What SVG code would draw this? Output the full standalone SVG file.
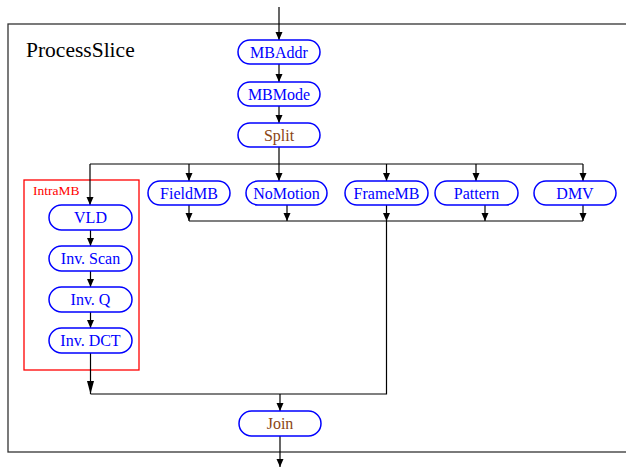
<svg xmlns="http://www.w3.org/2000/svg" width="626" height="468" viewBox="0 0 626 468">
<defs>
<style>
.node rect{fill:#fff;stroke:#0000ff;stroke-width:1.5}
.node text{font-family:"Liberation Serif","Times New Roman",serif;font-size:16px;fill:#0000ff;text-anchor:middle}
.node text.ctl{fill:#8b4513}
.edge{fill:none;stroke:#000;stroke-width:1.2}
</style>
<marker id="ah" markerUnits="userSpaceOnUse" markerWidth="8" markerHeight="10" refX="8" refY="3.5" orient="auto">
<path d="M0,0 L8,3.5 L0,7 Z" fill="#000"/>
</marker>
<marker id="ahl" markerUnits="userSpaceOnUse" markerWidth="13" markerHeight="10" refX="13" refY="3.5" orient="auto">
<path d="M0,0 L13,3.5 L0,7 Z" fill="#000"/>
</marker>
</defs>
<rect width="626" height="468" fill="#fff"/>
<g id="frame">
<rect x="8" y="24" width="630" height="428" fill="none" stroke="#333" stroke-width="1.3"/>
<text x="26" y="57" font-family="Liberation Serif,'Times New Roman',serif" font-size="21.5" fill="#000">ProcessSlice</text>
</g>
<g id="intraMB">
<rect x="24" y="180" width="115" height="190" fill="none" stroke="#ff0000" stroke-width="1.3"/>
<text x="33" y="195" font-family="Liberation Serif,'Times New Roman',serif" font-size="13.5" fill="#ff0000">IntraMB</text>
</g>
<g id="connectors">
<path class="edge" d="M279,7 V40" marker-end="url(#ah)"/>
<path class="edge" d="M279,64 V82" marker-end="url(#ah)"/>
<path class="edge" d="M279,106 V123" marker-end="url(#ah)"/>
<path class="edge" d="M279,147 V164 M90,164 H583"/>
<path class="edge" d="M90,164 V205" marker-end="url(#ah)"/>
<path class="edge" d="M189,164 V181" marker-end="url(#ah)"/>
<path class="edge" d="M279,164 V181" marker-end="url(#ah)"/>
<path class="edge" d="M386.5,164 V181" marker-end="url(#ah)"/>
<path class="edge" d="M476,164 V181" marker-end="url(#ah)"/>
<path class="edge" d="M583,164 V181" marker-end="url(#ah)"/>
<path class="edge" d="M90.5,230 V246" marker-end="url(#ah)"/>
<path class="edge" d="M90.5,271 V287" marker-end="url(#ah)"/>
<path class="edge" d="M90.5,312 V328" marker-end="url(#ah)"/>
<path class="edge" d="M90.5,353 V394" marker-end="url(#ahl)"/>
<path class="edge" d="M189,205 V221" marker-end="url(#ah)"/>
<path class="edge" d="M287,205 V221" marker-end="url(#ah)"/>
<path class="edge" d="M386.5,205 V221" marker-end="url(#ah)"/>
<path class="edge" d="M485,205 V221" marker-end="url(#ah)"/>
<path class="edge" d="M583,205 V221" marker-end="url(#ah)"/>
<path class="edge" d="M189,221 H583 M386.5,221 V394 H90.5"/>
<path class="edge" d="M280,394 V411" marker-end="url(#ah)"/>
<path class="edge" d="M280,436 V467" marker-end="url(#ah)"/>
</g>
<g id="MBAddr" class="node"><rect x="238" y="40" width="82" height="24" rx="12"/><text x="279" y="57.5">MBAddr</text></g>
<g id="MBMode" class="node"><rect x="238" y="82" width="82" height="24" rx="12"/><text x="279" y="99.5">MBMode</text></g>
<g id="Split" class="node"><rect x="238" y="123" width="82" height="24" rx="12"/><text class="ctl" x="279" y="140.5">Split</text></g>
<g id="VLD" class="node"><rect x="49" y="205" width="83" height="25" rx="12.5"/><text x="90.5" y="223">VLD</text></g>
<g id="InvScan" class="node"><rect x="49" y="246" width="83" height="25" rx="12.5"/><text x="90.5" y="264">Inv. Scan</text></g>
<g id="InvQ" class="node"><rect x="49" y="287" width="83" height="25" rx="12.5"/><text x="90.5" y="305">Inv. Q</text></g>
<g id="InvDCT" class="node"><rect x="49" y="328" width="83" height="25" rx="12.5"/><text x="90.5" y="346">Inv. DCT</text></g>
<g id="FieldMB" class="node"><rect x="148" y="181" width="82" height="24" rx="12"/><text x="189" y="198.5">FieldMB</text></g>
<g id="NoMotion" class="node"><rect x="246" y="181" width="81" height="24" rx="12"/><text x="286.5" y="198.5">NoMotion</text></g>
<g id="FrameMB" class="node"><rect x="345" y="181" width="83" height="24" rx="12"/><text x="386.5" y="198.5">FrameMB</text></g>
<g id="Pattern" class="node"><rect x="435" y="181" width="83" height="24" rx="12"/><text x="476.5" y="198.5">Pattern</text></g>
<g id="DMV" class="node"><rect x="534" y="181" width="82" height="24" rx="12"/><text x="575" y="198.5">DMV</text></g>
<g id="Join" class="node"><rect x="239" y="411" width="82" height="25" rx="12.5"/><text class="ctl" x="280" y="429">Join</text></g>
</svg>
